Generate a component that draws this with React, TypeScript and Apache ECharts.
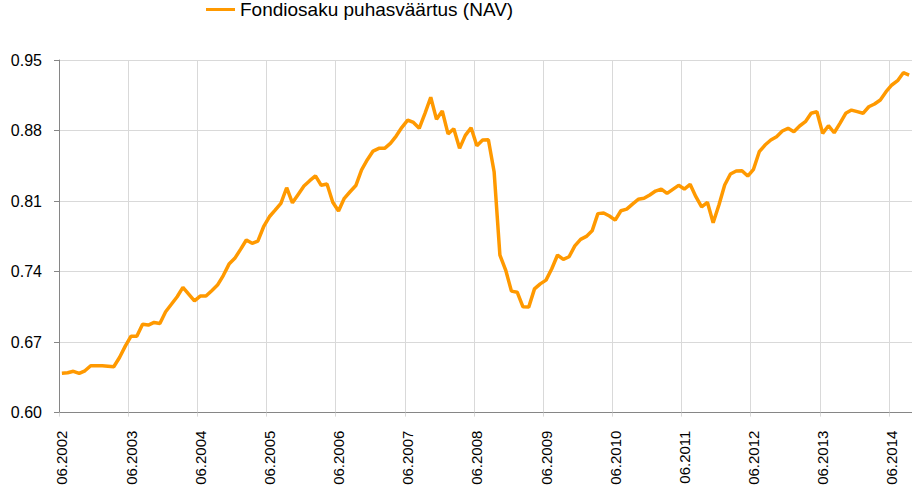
import React, { useEffect, useRef } from "react";
import * as echarts from "echarts";

const START_YEAR = 2002;
const START_MONTH = 6;
const seriesName = "Fondiosaku puhasväärtus (NAV)";

const navValues = [
  0.639, 0.6395, 0.641, 0.639, 0.6415, 0.6465, 0.6465, 0.6465, 0.646, 0.6455,
  0.6547, 0.666, 0.6759, 0.6759, 0.6878, 0.6869, 0.6895, 0.6885, 0.7001, 0.7075,
  0.715, 0.7243, 0.7177, 0.711, 0.7157, 0.7157, 0.721, 0.7266, 0.736, 0.7474,
  0.7531, 0.762, 0.7713, 0.768, 0.7703, 0.7845, 0.7944, 0.801, 0.8077, 0.8232,
  0.8083, 0.8166, 0.8249, 0.8302, 0.835, 0.8256, 0.8269, 0.8088, 0.8002, 0.8127,
  0.8192, 0.8254, 0.841, 0.851, 0.8596, 0.8623, 0.8623, 0.8673, 0.8745, 0.8832,
  0.8904, 0.888, 0.8822, 0.8971, 0.913, 0.8911, 0.8994, 0.8767, 0.8818, 0.8623,
  0.8752, 0.8828, 0.8649, 0.8706, 0.8709, 0.8388, 0.7564, 0.7415, 0.7206, 0.7195,
  0.705, 0.7047, 0.7228, 0.7278, 0.7315, 0.7428, 0.7564, 0.7521, 0.7547, 0.7655,
  0.772, 0.7749, 0.7804, 0.7975, 0.7981, 0.7951, 0.7911, 0.8004, 0.802, 0.807,
  0.8117, 0.8127, 0.816, 0.8199, 0.8219, 0.8176, 0.8216, 0.8256, 0.8219, 0.8266,
  0.8143, 0.8043, 0.8087, 0.7885, 0.806, 0.8259, 0.8368, 0.8398, 0.8401, 0.8348,
  0.8415, 0.859, 0.8656, 0.8706, 0.8739, 0.8795, 0.8822, 0.8788, 0.8845, 0.8888,
  0.8971, 0.8987, 0.8772, 0.8848, 0.8778, 0.8871, 0.8971, 0.9003, 0.8987, 0.8971,
  0.9036, 0.9063, 0.9103, 0.9185, 0.9252, 0.9295, 0.9374, 0.9351,
];

const categories = navValues.map((_, i) => {
  const m = START_MONTH - 1 + i;
  const mm = (m % 12) + 1;
  const yy = START_YEAR + Math.floor(m / 12);
  return `${String(mm).padStart(2, "0")}.${yy}`;
});

const yTicks = [0.6, 0.67, 0.74, 0.81, 0.88, 0.95];
const yInterval = 0.07;

const FONT = "Liberation Sans";

export default function App() {
  const ref = useRef<HTMLDivElement>(null);

  useEffect(() => {
    document.body.style.margin = "0";
    if (!ref.current) return;
    const chart = echarts.init(ref.current, undefined, { renderer: "svg" });
    chart.setOption({
      animation: false,
      backgroundColor: "#ffffff",
      textStyle: { fontFamily: FONT },
      legend: {
        left: 206,
        top: 0,
        padding: 0,
        itemWidth: 29,
        itemHeight: 3,
        icon: "rect",
        itemGap: 6,
        data: [seriesName],
        textStyle: {
          fontFamily: FONT,
          fontSize: 19,
          color: "#000000",
          padding: [10, 0, 0, 0],
        },
      },
      grid: {
        left: 59,
        top: 60,
        width: 856,
        height: 352.6,
        containLabel: false,
      },
      xAxis: {
        type: "category",
        data: categories,
        boundaryGap: true,
        axisLine: { show: true, lineStyle: { color: "#868686", width: 1 } },
        axisTick: {
          show: true,
          interval: 11,
          length: 4,
          lineStyle: { color: "#D9D9D9" },
        },
        axisLabel: {
          interval: 11,
          rotate: 90,
          margin: 18,
          fontFamily: FONT,
          fontSize: 15,
          color: "#000000",
        },
        splitLine: {
          show: true,
          interval: 11,
          lineStyle: { color: "#D9D9D9", width: 1 },
        },
      },
      yAxis: {
        type: "value",
        min: yTicks[0],
        max: yTicks[yTicks.length - 1],
        interval: yInterval,
        axisLine: { show: true, lineStyle: { color: "#868686", width: 1 } },
        axisTick: { show: true, length: 5, lineStyle: { color: "#868686" } },
        axisLabel: {
          margin: 17,
          fontFamily: FONT,
          fontSize: 16,
          color: "#000000",
          formatter: (v: number) => v.toFixed(2),
        },
        splitLine: { show: true, lineStyle: { color: "#D9D9D9", width: 1 } },
      },
      series: [
        {
          name: seriesName,
          type: "line",
          data: navValues,
          showSymbol: false,
          symbol: "none",
          lineStyle: { color: "#FF9900", width: 3.5 },
          itemStyle: { color: "#FF9900" },
        },
      ],
    });
    return () => chart.dispose();
  }, []);

  return <div ref={ref} style={{ width: 912, height: 493 }} />;
}
